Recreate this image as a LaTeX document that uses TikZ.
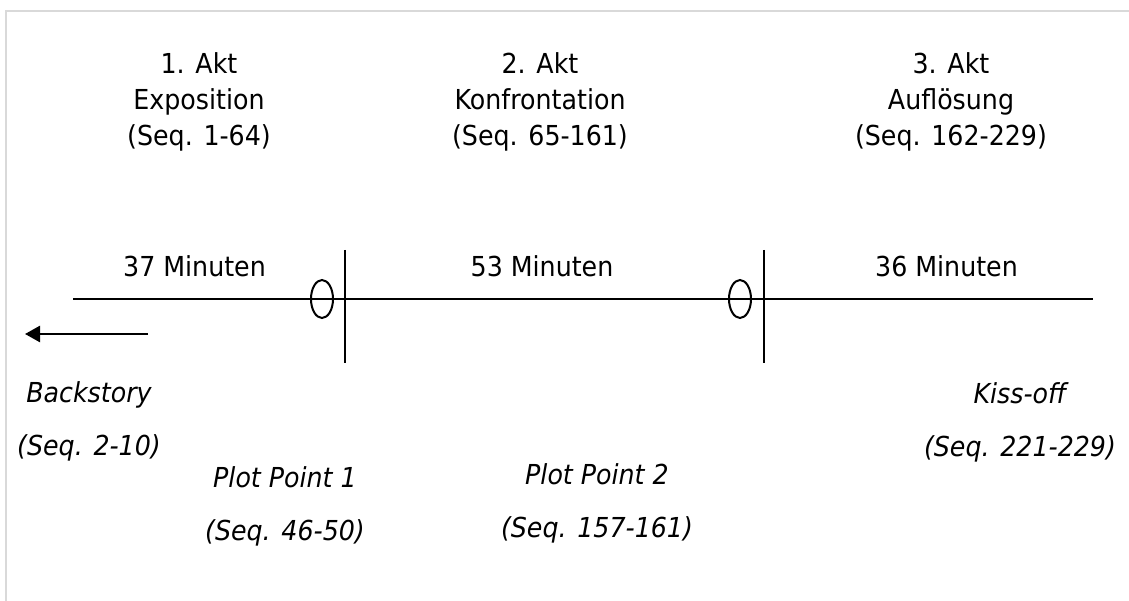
\documentclass[tikz,border=0pt]{standalone}
\usepackage{fontspec}
\setmainfont{DejaVu Sans}[FakeStretch=0.92]
\usetikzlibrary{shapes.geometric,arrows.meta}

\definecolor{framegray}{RGB}{217,217,217}

\tikzset{
  frameline/.style={draw=framegray, line width=2pt},
  timeline/.style={draw=black, line width=1.4pt},
  divider/.style={draw=black, line width=1.4pt},
  marker/.style={ellipse, draw=black, line width=2pt, minimum width=22pt, minimum height=38pt, inner sep=0pt},
  actlabel/.style={align=center, inner sep=0pt, font=\fontsize{27.5}{36}\selectfont},
  minutes/.style={anchor=base, inner sep=0pt, font=\fontsize{27.5}{33}\selectfont},
  eventlabel/.style={align=center, inner sep=0pt, font=\fontsize{27.5}{53}\selectfont\itshape},
  backarrow/.style={draw=black, line width=2.6pt, -{Triangle[length=15pt,width=16pt]}}
}

\begin{document}
\begin{tikzpicture}[x=1pt,y=-1pt]
\useasboundingbox (0,0) rectangle (1129,601);

% page frame (only its top and left edges fall inside the picture)
\draw[frameline] (6,11) rectangle (1140,612);

% act headings
\node[actlabel] (act1) at (199,102.4) {1. Akt\\Exposition\\(Seq. 1-64)};
\node[actlabel] (act2) at (540,102.4) {2. Akt\\Konfrontation\\(Seq. 65-161)};
\node[actlabel] (act3) at (951,102.4) {3. Akt\\Auflösung\\(Seq. 162-229)};

% running times
\node[minutes] (min1) at (194.5,277) {37 Minuten};
\node[minutes] (min2) at (542,277) {53 Minuten};
\node[minutes] (min3) at (946.5,277) {36 Minuten};

% time axis
\coordinate (axisstart) at (73,299);
\coordinate (axisend) at (1093,299);
\draw[timeline] (axisstart) -- (axisend);

% act boundaries
\coordinate (cut1top) at (345,250);
\coordinate (cut1bot) at (345,363);
\coordinate (cut2top) at (764,250);
\coordinate (cut2bot) at (764,363);
\draw[divider] (cut1top) -- (cut1bot);
\draw[divider] (cut2top) -- (cut2bot);

% plot points
\node[marker] (pp1) at (322,299) {};
\node[marker] (pp2) at (740,299) {};

% backstory arrow
\coordinate (backfrom) at (148,334);
\coordinate (backto) at (25,334);
\draw[backarrow] (backfrom) -- (backto);

% event labels
\node[eventlabel] (backstory) at (89,421) {Backstory\\(Seq. 2-10)};
\node[eventlabel] (plot1) at (285,506) {Plot Point 1\\(Seq. 46-50)};
\node[eventlabel] (plot2) at (597,503) {Plot Point 2\\(Seq. 157-161)};
\node[eventlabel] (kissoff) at (1020,422) {Kiss-off\\(Seq. 221-229)};
\end{tikzpicture}
\end{document}
